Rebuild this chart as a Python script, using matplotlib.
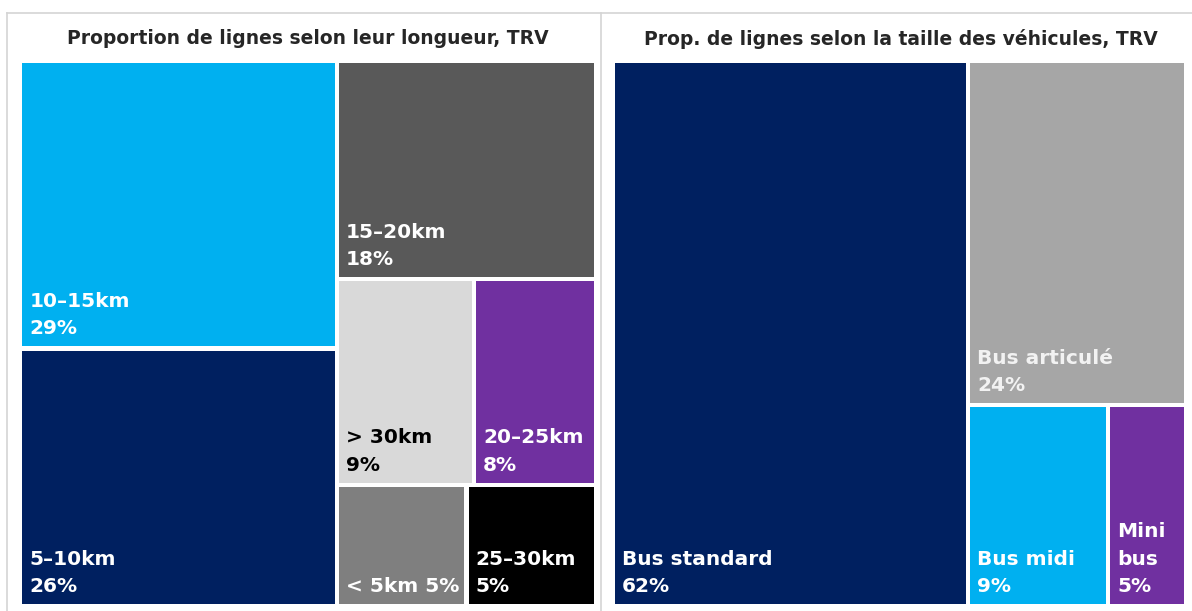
import matplotlib.pyplot as plt
from matplotlib.patches import Rectangle
from matplotlib.lines import Line2D

# left treemap: line length
len_labels = ['10–15km', '5–10km', '15–20km', '> 30km', '20–25km', '< 5km', '25–30km']
len_values = [29, 26, 18, 9, 8, 5, 5]
len_colors = ['#00B0F0', '#002060', '#595959', '#D9D9D9', '#7030A0', '#7F7F7F', '#000000']
len_text = ['white', 'white', 'white', 'black', 'white', 'white', 'white']
len_sep = ['\n', '\n', '\n', '\n', '\n', ' ', '\n']

# right treemap: vehicle size
veh_labels = ['Bus standard', 'Bus articulé', 'Bus midi', 'Mini\nbus']
veh_values = [62, 24, 9, 5]
veh_colors = ['#002060', '#A6A6A6', '#00B0F0', '#7030A0']
veh_text = ['white', '#F2F2F2', 'white', 'white']

plt.rcParams['font.family'] = ['DejaVu Sans']

W, H = 1192, 611


def worst(row, w):
    s = sum(row)
    return max(max(w * w * r / (s * s), s * s / (w * w * r)) for r in row)


def layout_row(row, x, y, dx, dy, rects):
    s = sum(row)
    if dx >= dy:
        # column on the left
        cw = s / dy
        yy = y
        for r in row:
            h = r / cw
            rects.append((x, yy, cw, h))
            yy += h
        return x + cw, y, dx - cw, dy
    else:
        # row on the top
        rh = s / dx
        xx = x
        for r in row:
            w = r / rh
            rects.append((xx, y, w, rh))
            xx += w
        return x, y + rh, dx, dy - rh


def squarify(values, x, y, dx, dy):
    total = sum(values)
    areas = [v * dx * dy / total for v in values]
    rects = []
    row = []
    i = 0
    while i < len(areas):
        side = min(dx, dy)
        a = areas[i]
        if not row or worst(row + [a], side) <= worst(row, side):
            row.append(a)
            i += 1
        else:
            x, y, dx, dy = layout_row(row, x, y, dx, dy, rects)
            row = []
    if row:
        layout_row(row, x, y, dx, dy, rects)
    return rects


fig = plt.figure(figsize=(W / 100, H / 100), dpi=100)
ax = fig.add_axes([0, 0, 1, 1])
ax.set_xlim(0, W)
ax.set_ylim(H, 0)
ax.axis('off')

# panel frames
fc = '#D4D4D4'
ax.add_line(Line2D([7, W], [13, 13], color=fc, lw=1.2))
ax.add_line(Line2D([7, 7], [13, H], color=fc, lw=1.2))
ax.add_line(Line2D([601, 601], [13, H], color=fc, lw=1.2))

ax.text(308, 39, 'Proportion de lignes selon leur longueur, TRV', ha='center', va='center',
        fontsize=13.5, fontweight='bold', color='#262626')
ax.text(901, 39, 'Prop. de lignes selon la taille des véhicules, TRV', ha='center', va='center',
        fontsize=13.5, fontweight='bold', color='#262626')

gap = 2.2


def draw(values, labels, colors, tcolors, seps, x0, y0, w, h):
    rects = squarify(values, x0, y0, w, h)
    for (x, y, dx, dy), v, lab, c, tc, sp in zip(rects, values, labels, colors, tcolors, seps):
        ax.add_patch(Rectangle((x + gap, y + gap), dx - 2 * gap, dy - 2 * gap, color=c, lw=0))
        ax.text(x + gap + 7, y + dy - gap - 8, lab + sp + str(v) + '%', ha='left', va='bottom',
                fontsize=14.5, fontweight='bold', color=tc, linespacing=1.55)


draw(len_values, len_labels, len_colors, len_text, len_sep, 20, 61, 576, 545)
draw(veh_values, veh_labels, veh_colors, veh_text, ['\n'] * 4, 613, 61, 573, 545)

fig.savefig('out.png', dpi=100)
